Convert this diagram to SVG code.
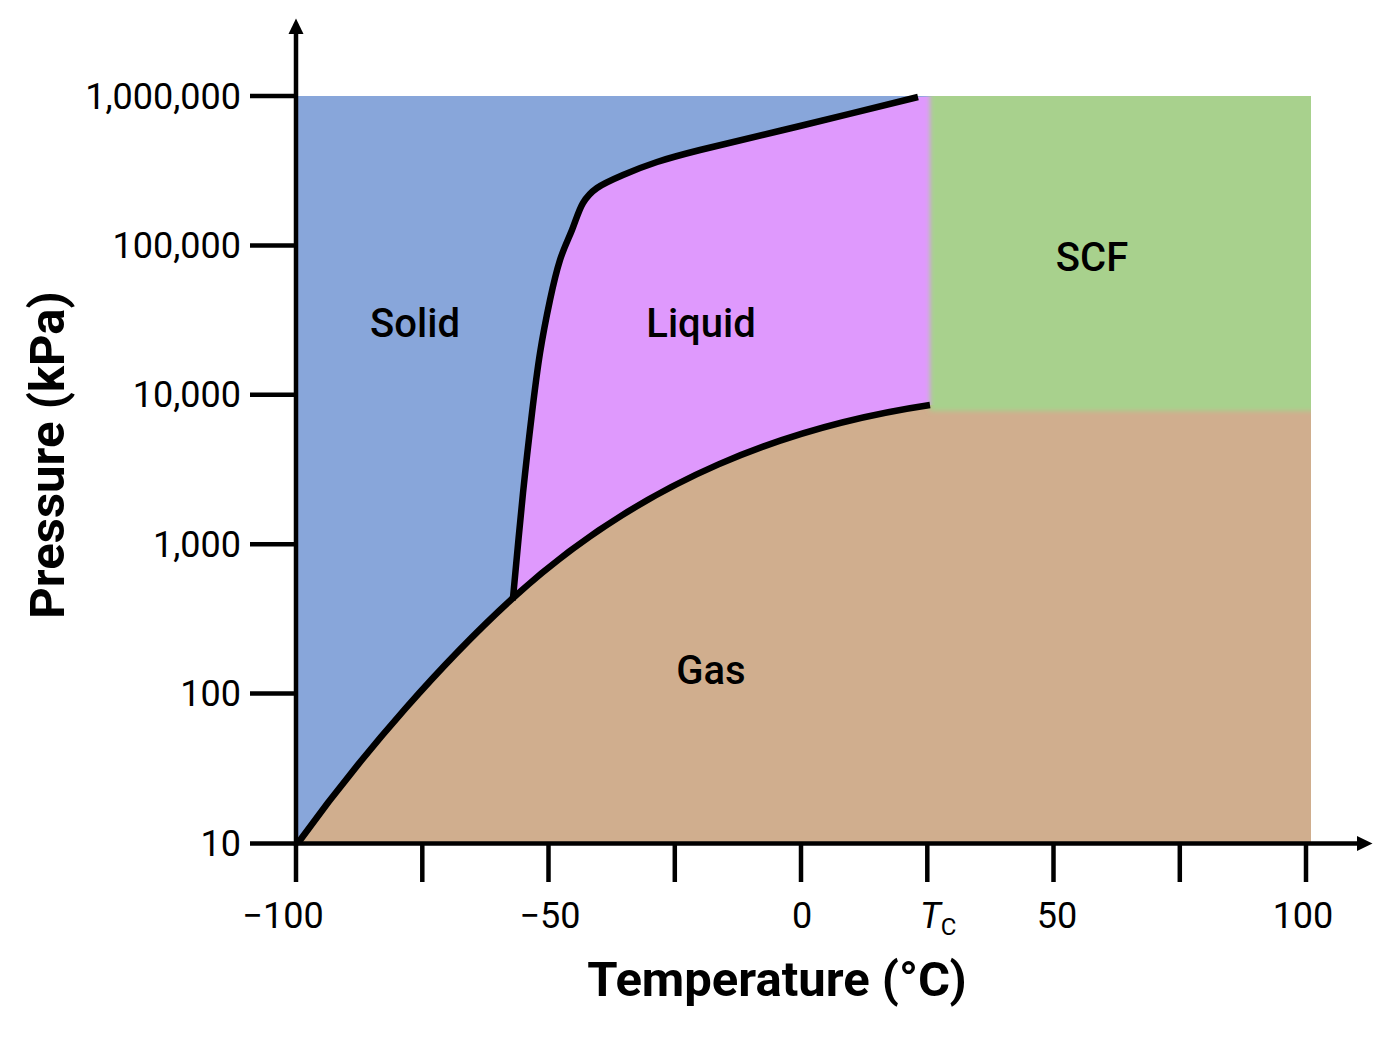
<svg xmlns="http://www.w3.org/2000/svg" width="1389" height="1039" viewBox="0 0 1389 1039">
<style>
text{font-family:Roboto,"Liberation Sans",sans-serif;fill:#000}
.tick{font-size:36px}
.ylab{text-anchor:end}
.xlab{text-anchor:middle}
.title{font-size:49px;font-weight:700;text-anchor:middle}
.region{font-size:40px;font-weight:500;text-anchor:middle}
.curve{fill:none;stroke:#000;stroke-width:6.5;stroke-linecap:butt;stroke-linejoin:round}
.axis{stroke:#000;stroke-width:4.5;fill:none}
</style>
<defs>
<filter id="soft" x="-5%" y="-5%" width="110%" height="110%"><feGaussianBlur stdDeviation="2.6"/></filter>
<clipPath id="plotclip"><rect x="0" y="96" width="1311" height="760"/></clipPath>
<marker id="arr" viewBox="0 0 16 16" refX="1" refY="8" markerWidth="16" markerHeight="16" markerUnits="userSpaceOnUse" orient="auto"><path d="M0,0.5 L15.5,8 L0,15.5 Z" fill="#000"/></marker>
</defs>
<rect width="1389" height="1039" fill="#fff"/>
<g id="regions">
<rect id="solid-region" x="296" y="96" width="1015" height="748" fill="#88A6DA"/>
<path id="liquid-region" fill="#DF99FD" d="M513,598 C514.7,580.5 519.8,523.8 523,493 C526.2,462.2 529.2,436.3 532,413 C534.8,389.7 537,371.8 540,353 C543,334.2 546.7,315.5 550,300 C553.3,284.5 556.3,271.7 560,260 C563.7,248.3 568.2,239.5 572,230 C575.8,220.5 578.8,210 583,203 C587.2,196 590.3,192.7 597,188 C603.7,183.3 613,179.3 623,175 C633,170.7 644.2,166.2 657,162 C669.8,157.8 676.2,156 700,150 C723.8,144 763.7,134.8 800,126 C836.3,117.2 898.3,101.8 918,97 L945,96 L945,625 L513,625 Z"/>
<path id="gas-region" fill="#D0AE8E" d="M298,843 C365,750 445,660 513,598 C645,478 790,426 930,405 L1311,405 L1311,844 L298,844 Z"/>
<g clip-path="url(#plotclip)">
<rect id="scf-region" x="930" y="90" width="390" height="321" fill="#A8D18D" filter="url(#soft)"/>
</g>
</g>
<g id="boundaries">
<path id="vapor-curve" class="curve" d="M298,843 C365,750 445,660 513,598 C645,478 790,426 930,405"/>
<path id="melting-curve" class="curve" d="M512.5,600 L513,598 C514.7,580.5 519.8,523.8 523,493 C526.2,462.2 529.2,436.3 532,413 C534.8,389.7 537,371.8 540,353 C543,334.2 546.7,315.5 550,300 C553.3,284.5 556.3,271.7 560,260 C563.7,248.3 568.2,239.5 572,230 C575.8,220.5 578.8,210 583,203 C587.2,196 590.3,192.7 597,188 C603.7,183.3 613,179.3 623,175 C633,170.7 644.2,166.2 657,162 C669.8,157.8 676.2,156 700,150 C723.8,144 763.7,134.8 800,126 C836.3,117.2 898.3,101.8 918,97"/>
</g>
<g id="axes">
<line class="axis" x1="296" y1="846" x2="296" y2="33" marker-end="url(#arr)"/>
<line class="axis" x1="294" y1="843.5" x2="1358" y2="843.5" marker-end="url(#arr)"/>
<g id="y-ticks" class="axis">
<line x1="250" y1="96" x2="296" y2="96"/>
<line x1="250" y1="245.4" x2="296" y2="245.4"/>
<line x1="250" y1="394.8" x2="296" y2="394.8"/>
<line x1="250" y1="544.2" x2="296" y2="544.2"/>
<line x1="250" y1="693.6" x2="296" y2="693.6"/>
<line x1="250" y1="843.5" x2="296" y2="843.5"/>
</g>
<g id="x-ticks" class="axis">
<line x1="296" y1="843" x2="296" y2="882"/>
<line x1="422.3" y1="843" x2="422.3" y2="882"/>
<line x1="548.5" y1="843" x2="548.5" y2="882"/>
<line x1="674.8" y1="843" x2="674.8" y2="882"/>
<line x1="801" y1="843" x2="801" y2="882"/>
<line x1="927.3" y1="843" x2="927.3" y2="882"/>
<line x1="1053.5" y1="843" x2="1053.5" y2="882"/>
<line x1="1179.8" y1="843" x2="1179.8" y2="882"/>
<line x1="1306" y1="843" x2="1306" y2="882"/>
</g>
</g>
<g id="labels">
<text class="tick ylab" x="241" y="108.5">1,000,000</text>
<text class="tick ylab" x="241" y="258">100,000</text>
<text class="tick ylab" x="241" y="407.3">10,000</text>
<text class="tick ylab" x="241" y="556.7">1,000</text>
<text class="tick ylab" x="241" y="706">100</text>
<text class="tick ylab" x="241" y="855.5">10</text>
<text class="tick xlab" x="283" y="928">−100</text>
<text class="tick xlab" x="550" y="928">−50</text>
<text class="tick xlab" x="802" y="928">0</text>
<text class="tick" x="920" y="928"><tspan font-style="italic">T</tspan><tspan font-size="24" dy="7">C</tspan></text>
<text class="tick xlab" x="1057" y="928">50</text>
<text class="tick xlab" x="1303" y="928">100</text>
<text class="title" x="777" y="996">Temperature (°C)</text>
<text class="title" transform="translate(64,455) rotate(-90)">Pressure (kPa)</text>
<text class="region" x="415" y="337">Solid</text>
<text class="region" x="701" y="337">Liquid</text>
<text class="region" x="1092" y="271">SCF</text>
<text class="region" x="711" y="684">Gas</text>
</g>
</svg>
